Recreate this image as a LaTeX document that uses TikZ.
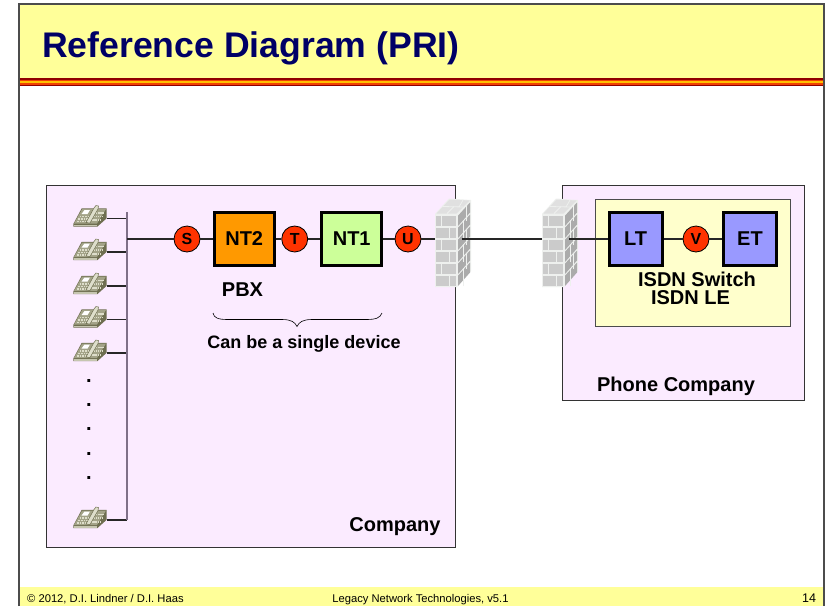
\documentclass[tikz,border=0pt]{standalone}
\usepackage{fontspec}
\setmainfont{Liberation Sans}
\usepackage{xcolor}
\usetikzlibrary{positioning}
\definecolor{bandyellow}{HTML}{FFFF99}
\definecolor{titleblue}{HTML}{000066}
\definecolor{stripered}{HTML}{900000}
\definecolor{stripemid}{HTML}{F04000}
\definecolor{stripeorange}{HTML}{FFC000}
\definecolor{roomfill}{HTML}{FBEBFF}
\definecolor{switchfill}{HTML}{FFFFCC}
\definecolor{termblue}{HTML}{9999FF}
\definecolor{pbxorange}{HTML}{FF9900}
\definecolor{ntgreen}{HTML}{CCFF99}
\definecolor{refred}{HTML}{FF3300}
\definecolor{phonedark}{HTML}{6E6E50}
\definecolor{phonemid}{HTML}{A3A388}
\definecolor{phonelight}{HTML}{DEDECB}
\definecolor{busgrey}{HTML}{7F7088}
\definecolor{brickface}{HTML}{CBCBCB}
\definecolor{brickside}{HTML}{ABABAB}
\definecolor{mortar}{HTML}{EEF0EE}
\tikzset{
  unitbox/.style={rectangle, draw=black, line width=3pt, font=\bfseries\fontsize{20}{22}\selectfont, inner sep=0pt, minimum height=52.5pt},
  refpoint/.style={circle, draw=black, fill=refred, line width=0.8pt, font=\bfseries\fontsize{16}{18}\selectfont, inner sep=0pt, minimum size=26pt},
  label/.style={font=\bfseries\fontsize{20}{22}\selectfont, align=center, inner sep=0pt},
  footer/.style={inner sep=0pt, font=\fontsize{11.2}{13}\selectfont},
  wire/.style={line width=1.2pt, black!85},
  phonepic/.pic={
    \fill[phonedark] (-16.7,7) -- (-8.3,-8.7) -- (16.7,-8.7) -- (16.7,1.3) -- (7.3,9.7) -- (-16.7,9.7) -- cycle;
    \fill[phonemid] (-16,6.5) -- (-7.8,-8) -- (16,-8) -- (7,6.5) -- cycle;
    \fill[phonelight!60!phonemid] (-16.2,7.5) -- (7,7.5) -- (7,9.2) -- (-16.2,9.2) -- cycle;
    \foreach \kx in {0,1,2,3,4} \foreach \ky in {0,1,2} {
      \fill[phonelight] ({-13+\kx*2.6+\ky*1.4},{5-\ky*2.4}) rectangle ++(1.6,-1.4);
      \fill[phonelight] ({2.4+\kx*1.9+\ky*1.6},{4-\ky*3.6}) rectangle ++(1.2,-1.6);
    }
    \fill[white] (-8.5,-3) -- (-5.5,-7) -- (0,-7) -- (-2.5,-3) -- cycle;
    \fill[phonelight, draw=phonedark, line width=0.5pt] (-4,5.5) -- (4,-9) -- (6,-11.5) -- (8.5,-11) -- (8,-8) -- (0,6) -- cycle;
  },
  brickwall/.pic={
    % front, side and top of the wall
    \fill[mortar] (0,0) -- (0,-73) -- (14,-88.5) -- (36,-87) -- (36,-16) -- (22,0) -- cycle;
    \foreach \y/\xa/\xb/\xc/\xd in {60/1/6/7/21, 48/1/14/15/21, 36/1/6/7/21, 24/1/14/15/21, 12/1/6/7/21, 0/1/14/15/21} {
      \fill[brickface] (\xa,{-\y-1}) rectangle (\xb,{-\y-11.3});
      \fill[brickface] (\xc,{-\y-1}) rectangle (\xd,{-\y-11.3});
      \fill[brickside] (23,{-\y-1}) -- (35,{-\y-14.5}) -- (35,{-\y-24.5}) -- (23,{-\y-11.3}) -- cycle;
    }
    \foreach \y in {0,24,48}
      \draw[mortar, line width=0.8pt] (28,{-\y-1}) -- (28,{-\y-19});
    \foreach \y in {12,36,60}
      \draw[mortar, line width=0.8pt] (31,{-\y-6}) -- (31,{-\y-22});
    \fill[black!12] (1.5,-73.5) -- (14.5,-87.5) -- (34.5,-86.5) -- (21.5,-73.5) -- cycle;
    \draw[mortar, line width=0.8pt] (8,-80.5) -- (28,-80);
    \draw[mortar, line width=0.8pt] (12,-73.5) -- (19,-80.5);
    \draw[mortar, line width=0.8pt] (24,-80) -- (28,-87);
  }
}
\begin{document}
\begin{tikzpicture}[x=1pt, y=-1pt]
  \useasboundingbox (0,0) rectangle (825,606);
  % slide frame and bands
  \fill[white] (0,0) rectangle (825,606);
  \fill[bandyellow] (19.5,4.5) rectangle (825,78);
  \fill[bandyellow] (19.5,587) rectangle (825,606);
  \fill[stripered] (19.5,78) rectangle (825,86);
  \fill[stripemid] (19.5,79.5) rectangle (825,84.5);
  \fill[stripeorange] (19.5,81) rectangle (825,83);
  \draw[black!70, line width=1.5pt] (19.2,606) -- (19.2,4) -- (824.2,4) -- (824.2,606);
  \node[anchor=base west, inner sep=0pt, text=titleblue, font=\bfseries\fontsize{35.6}{38}\selectfont] (title) at (42,57) {Reference Diagram (PRI)};
  \node[footer, anchor=base west] (footleft) at (27,602) {© 2012, D.I. Lindner / D.I. Haas};
  \node[footer, anchor=base] (footmid) at (420.5,602) {Legacy Network Technologies, v5.1};
  \node[footer, anchor=base, font=\fontsize{12.5}{14}\selectfont] (footnum) at (809,602) {14};

  % rooms
  \draw[black!80, fill=roomfill, line width=1pt] (46.5,185.5) rectangle (455.5,547);
  \draw[black!80, fill=roomfill, line width=1pt] (562,185.5) rectangle (804,400);
  \draw[black!70, fill=switchfill, line width=1pt] (595.5,199) rectangle (790,326);

  % phones and bus
  \foreach \name/\ypos in {a/218.5, b/252, c/286, d/319.5, e/353, f/520} {
    \pic at (90,\ypos-1.5) {phonepic};
    \coordinate (tap\name) at (127,\ypos);
    \coordinate (phone\name) at (107,\ypos);
    \draw[wire] (phone\name) -- (tap\name);
  }
  \draw[busgrey, line width=1.5pt] (127,212) -- (tapf);
  \foreach \ypos in {381,405,429,454,478}
    \node[font=\bfseries\fontsize{20}{20}\selectfont, inner sep=0pt] at (89,\ypos) {.};

  % line of devices
  \node[refpoint] (S) at (187,239) {S};
  \node[unitbox, fill=pbxorange, minimum width=60pt] (NT2) at (244.2,239) {NT2};
  \node[refpoint] (T) at (294.7,239) {T};
  \node[unitbox, fill=ntgreen, minimum width=60pt] (NT1) at (351.7,239) {NT1};
  \node[refpoint] (U) at (408,239) {U};
  \coordinate (busout) at (127,239);
  \coordinate (wallAin) at (435,239);
  \coordinate (wallAout) at (462,239);
  \coordinate (wallBin) at (542,239);
  \coordinate (wallBout) at (569,239);
  \draw[wire] (busout) -- (S);
  \draw[wire] (S) -- (NT2);
  \draw[wire] (NT2) -- (T);
  \draw[wire] (T) -- (NT1);
  \draw[wire] (NT1) -- (U);
  \draw[wire] (U) -- (wallAin);

  % phone company side
  \node[unitbox, fill=termblue, minimum width=53pt] (LT) at (635.5,239) {LT};
  \node[refpoint] (V) at (696,239) {V};
  \node[unitbox, fill=termblue, minimum width=53pt] (ET) at (750,239) {ET};

  % walls
  \pic at (435,287) {brickwall};
  \pic at (542,287) {brickwall};
  \draw[wire] (wallAout) -- (wallBin);
  \draw[wire] (wallBout) -- (LT);
  \draw[wire] (LT) -- (V);
  \draw[wire] (V) -- (ET);

  % labels
  \node[label] (pbx) at (242.5,290) {PBX};
  \draw[line width=0.6pt] (213,313) .. controls (214,318) and (218,319.5) .. (228,319.5) -- (282,319.5) .. controls (291,319.5) and (295,322) .. (297,326.5) .. controls (299,322) and (303,319.5) .. (312,319.5) -- (366,319.5) .. controls (376,319.5) and (380,318) .. (382,313);
  \node[label, font=\bfseries\fontsize{18}{20}\selectfont] (single) at (304,344) {Can be a single device};
  \node[label] (company) at (395,527) {Company};
  \node[label] (phoneco) at (676,386) {Phone Company};
  \node[label] (sw) at (697,279.5) {ISDN Switch};
  \node[label] (le) at (690.5,298) {ISDN LE};
\end{tikzpicture}
\end{document}
